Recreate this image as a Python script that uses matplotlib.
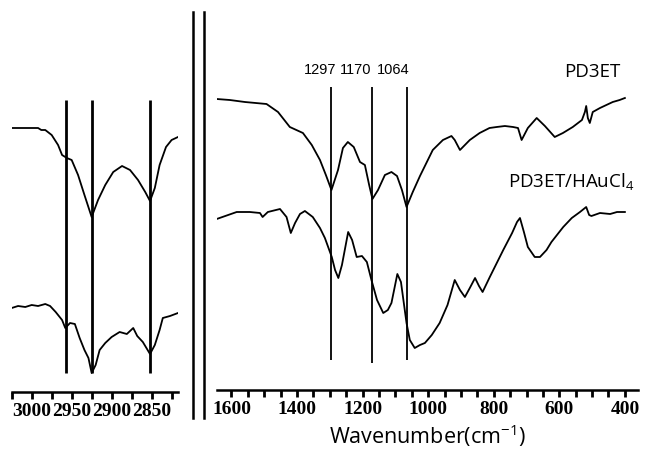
import matplotlib
matplotlib.use("Agg")
import matplotlib.pyplot as plt
from matplotlib.lines import Line2D
from matplotlib.ticker import MultipleLocator, FixedLocator

plt.rcParams['mathtext.fontset'] = 'custom'
plt.rcParams['mathtext.rm'] = 'Open Sans'
plt.rcParams['mathtext.it'] = 'Open Sans:italic'

# C-H stretching region (left panel), transmittance in arbitrary units
chWave = [3025, 3008, 2992, 2988, 2983, 2975, 2967, 2962, 2956, 2950, 2942, 2934,
          2925, 2917, 2908, 2898, 2887, 2877, 2867, 2858, 2852, 2846, 2840, 2832,
          2825, 2817]
chPD3ET = [325, 325, 325, 323, 323, 318, 308, 298, 295, 293, 278, 258,
           236, 253, 268, 281, 287, 283, 273, 261, 252, 265, 288, 306,
           313, 316]
chWaveAu = [3025, 3017, 3008, 3000, 2992, 2983, 2977, 2970, 2962, 2958, 2952, 2946,
            2940, 2934, 2929, 2925, 2920, 2915, 2908, 2900, 2890, 2881, 2873, 2868,
            2861, 2852, 2846, 2840, 2836, 2827, 2817]
chPD3ETAu = [145, 147, 146, 148, 147, 149, 147, 141, 133, 125, 130, 129,
             115, 103, 95, 80, 88, 103, 110, 116, 121, 119, 125, 117,
             111, 99, 108, 123, 135, 137, 140]
chPeaks = [2957, 2925, 2852]

# fingerprint region (right panel)
fpWave = [1645, 1605, 1559, 1493, 1458, 1422, 1382, 1355, 1330, 1312, 1295, 1275,
          1260, 1245, 1227, 1208, 1193, 1180, 1170, 1153, 1132, 1112, 1095, 1080,
          1066, 1047, 1025, 986, 955, 929, 919, 903, 873, 843, 813, 791,
          766, 741, 726, 715, 696, 669, 644, 614, 589, 559, 531, 522,
          518, 513, 507, 498, 476, 437, 416, 400]
fpPD3ET = [354, 353, 351, 349, 341, 326, 320, 308, 293, 278, 263, 283,
           305, 311, 306, 291, 288, 268, 254, 263, 278, 281, 277, 263,
           246, 261, 277, 303, 313, 317, 313, 303, 313, 320, 325, 326,
           327, 326, 325, 313, 325, 335, 327, 316, 320, 326, 333, 341,
           347, 335, 330, 341, 345, 351, 353, 355]
fpWaveAu = [1645, 1584, 1544, 1513, 1505, 1489, 1452, 1432, 1419, 1406, 1391, 1376,
            1352, 1330, 1315, 1294, 1284, 1274, 1263, 1244, 1232, 1218, 1202, 1187,
            1173, 1156, 1137, 1123, 1112, 1094, 1083, 1066, 1056, 1041, 1025, 1010,
            989, 965, 941, 919, 903, 888, 873, 857, 845, 834, 812, 771,
            744, 729, 720, 708, 696, 675, 659, 639, 624, 588, 562, 537,
            518, 509, 502, 476, 445, 424, 400]
fpPD3ETAu = [234, 241, 241, 240, 236, 241, 244, 236, 220, 230, 239, 242,
             236, 225, 215, 196, 183, 175, 188, 221, 213, 196, 197, 191,
             173, 153, 140, 143, 150, 179, 171, 130, 113, 105, 108, 110,
             118, 130, 148, 173, 163, 156, 165, 175, 167, 161, 176, 203,
             220, 231, 235, 221, 206, 196, 196, 203, 211, 226, 235, 241,
             246, 238, 237, 240, 239, 241, 241]
fpPeaks = [1297, 1170, 1064]
fpPeakBottoms = [93, 90, 93]
peakLabels = ["1297", "1170", "1064"]

W, H = 649, 453
fig = plt.figure(figsize=(W / 100, H / 100), dpi=100)

tickFont = dict(family="Liberation Serif", weight="bold", size=14)

# left panel
axL = fig.add_axes([11.7 / W, 1 - 392 / H, (178 - 11.7) / W, 392 / H])
axL.plot(chWave, chPD3ET, color="black", lw=1.3)
axL.plot(chWaveAu, chPD3ETAu, color="black", lw=1.3)
axL.vlines(chPeaks, 80, 353, color="black", lw=2.0)
axL.set_xlim(3025, 2817)
axL.set_ylim(61, 453)

# right panel
axR = fig.add_axes([216.7 / W, 1 - 390 / H, (638 - 216.7) / W, 390 / H])
axR.plot(fpWave, fpPD3ET, color="black", lw=1.3)
axR.plot(fpWaveAu, fpPD3ETAu, color="black", lw=1.3)
axR.vlines(fpPeaks, fpPeakBottoms, 366, color="black", lw=1.3)
for x, lab, dx in zip(fpPeaks, peakLabels, [-7.5, -12, -10]):
    axR.annotate(lab, (x, 366), xytext=(dx, 7), textcoords="offset points",
                 ha="center", va="bottom", fontsize=10.5,
                 family=["Liberation Sans Narrow", "Liberation Sans"])
axR.text(498, 381, "PD3ET", ha="center", va="center", fontsize=13.5, family="Open Sans")
axR.text(563, 271, r"PD3ET/HAuCl$_4$", ha="center", va="center", fontsize=13.5,
         family="Open Sans")
axR.set_xlim(1645, 360)
axR.set_ylim(63, 453)
axR.set_xlabel("Wavenumber(cm$^{-1}$)", fontsize=15.5, family="Open Sans", labelpad=3)

axL.xaxis.set_major_locator(FixedLocator([3000, 2950, 2900, 2850]))
axL.xaxis.set_minor_locator(FixedLocator([3025, 2975, 2925, 2875, 2825]))
axR.xaxis.set_major_locator(MultipleLocator(200))
axR.xaxis.set_minor_locator(MultipleLocator(50))

for ax in (axL, axR):
    for side in ("top", "left", "right"):
        ax.spines[side].set_visible(False)
    ax.spines["bottom"].set_linewidth(1.8)
    ax.set_yticks([])
    ax.patch.set_alpha(0)
    ax.tick_params(axis="x", which="both", direction="out", length=5, width=2, pad=3)
    for lab in ax.get_xticklabels():
        lab.set(**tickFont)

# double break lines between the panels
for xp in (193, 204):
    fig.add_artist(Line2D([xp / W, xp / W], [1 - 418 / H, 1 - 12 / H],
                          transform=fig.transFigure, color="black", lw=1.8))

fig.savefig("out.png", dpi=100)
